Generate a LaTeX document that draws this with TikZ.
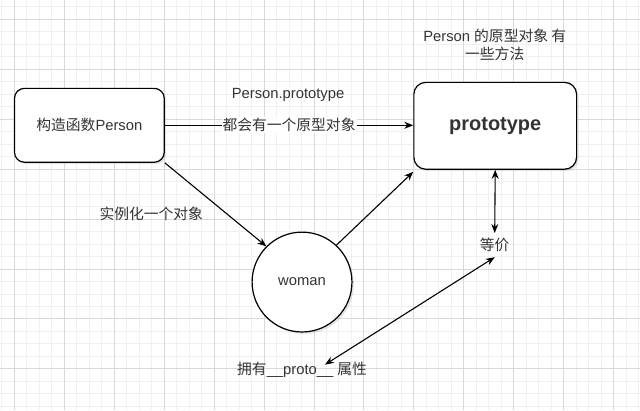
\documentclass[tikz,border=0pt]{standalone}
\usepackage{fontspec}
\setmainfont{Liberation Sans}
\newfontfamily\cjk{Noto Sans CJK SC}
\usetikzlibrary{arrows.meta,shadows}
\definecolor{txt}{HTML}{333333}
\definecolor{gridmajor}{HTML}{D9D9D9}
\definecolor{gridminor}{HTML}{F0F0F0}

\begin{document}
\begin{tikzpicture}[x=1pt,y=-1pt,
  box/.style={draw,line width=1.2pt,fill=white,text=txt,drop shadow={opacity=0.2,shadow xshift=2pt,shadow yshift=-2pt}},
  lbl/.style={text=txt,font=\fontsize{14.8}{17}\selectfont},
  arr/.style={line width=1.1pt,-{Stealth[length=9pt,width=7pt]}},
  biarr/.style={line width=1.1pt,{Stealth[length=9pt,width=7pt]}-{Stealth[length=9pt,width=7pt]}}]
% background grid
\fill[white] (0,0) rectangle (640,410);
\foreach \x in {1.5,14,...,640} \draw[gridminor,line width=1pt] (\x,0)--(\x,410);
\foreach \y in {6.5,19,...,410} \draw[gridminor,line width=1pt] (0,\y)--(640,\y);
\foreach \x in {14,64,...,640} \draw[gridmajor,line width=1pt] (\x,0)--(\x,410);
\foreach \y in {19,69,...,410} \draw[gridmajor,line width=1pt] (0,\y)--(640,\y);
\useasboundingbox (0,0) rectangle (640,410);

\node[box,rounded corners=10pt,minimum width=150pt,minimum height=74pt,lbl] (ctor) at (89,125) {{\cjk 构造函数}Person};
\node[box,rounded corners=12pt,minimum width=163pt,minimum height=87pt,font=\bfseries\fontsize{20}{24}\selectfont] (proto) at (495.5,125.5) {prototype};
\node[box,circle,minimum size=100pt,lbl] (woman) at (302,282) {woman};

\node[lbl,align=center] (note) at (495,44) {Person {\cjk 的原型对象 有}\\[1pt]{\cjk 一些方法}};
\node[lbl] (ptype) at (288,95) {Person.prototype};
\node[lbl] (inst) at (151,214) {\cjk 实例化一个对象};
\node[lbl,inner sep=5pt] (eq) at (495,245) {\cjk 等价};
\node[lbl] (has) at (302,370) {{\cjk 拥有}\_\_proto\_\_\hspace{4pt}{\cjk 属性}};

\draw[arr] (ctor) -- (ctor -| proto.west) node[midway,lbl,fill=white,inner sep=1pt] (own) {\cjk 都会有一个原型对象};
\draw[arr] (ctor.south east) -- (woman.north west);
\draw[arr] (woman.47) -- ([yshift=-2pt]proto.south west);
\draw[biarr] (proto.south) -- (eq.north);
\draw[biarr] (eq.south) -- ([xshift=23pt,yshift=-6pt]has.north);
\end{tikzpicture}
\end{document}
